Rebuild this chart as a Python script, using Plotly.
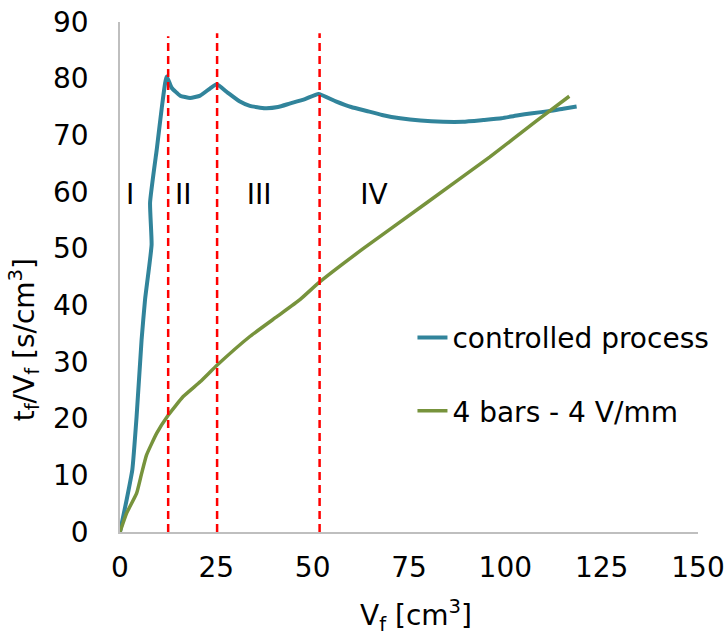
import plotly.graph_objects as go

# ---- data ----
ctrl_x = [0, 1.7, 3.2, 4.3, 5.6, 6.5, 8.2, 7.8, 9.5, 12.1, 13.4, 15.6, 18.2, 20.8, 23.4, 25.1,
          28.0, 31.0, 33.7, 37.6, 41.0, 44.0, 48.0, 51.5, 56.0, 60.0, 64.0, 68.0, 72.7,
          78.0, 83.9, 89.0, 94.3, 99.0, 103.0, 107.0, 111.6, 115.0, 118.5]
ctrl_y = [0, 5.6, 11.0, 20.3, 33.9, 41.0, 50.7, 58.1, 67.3, 80.4, 78.4, 77.0, 76.6, 77.0, 78.3, 79.0,
          77.5, 76.0, 75.2, 74.8, 75.0, 75.6, 76.4, 77.3, 76.0, 75.0, 74.3, 73.6, 73.0,
          72.6, 72.4, 72.4, 72.7, 73.0, 73.5, 73.9, 74.3, 74.7, 75.1]

bars_x = [0, 1.7, 4.3, 5.6, 6.9, 9.5, 12.5, 16.4, 20.8, 25.3, 33.7, 40.7, 46.7, 51.6,
          63.1, 79.6, 96.0, 108.0, 116.6]
bars_y = [0, 3.3, 6.8, 10.3, 13.6, 17.4, 20.6, 23.9, 26.5, 29.5, 34.5, 38.0, 41.0, 44.0,
          50.0, 58.1, 66.2, 72.5, 76.9]

stage_x = [12.5, 25.2, 51.8]
stage_top = [87.5, 88.0, 88.0]

region_labels = ["I", "II", "III", "IV"]
region_x = [2.6, 16.4, 36.1, 65.9]
region_y = [59.2, 59.2, 59.2, 59.2]

x_ticks = [0, 25, 50, 75, 100, 125, 150]
y_ticks = [0, 10, 20, 30, 40, 50, 60, 70, 80, 90]

FONT = "DejaVu Sans"
BLUE = "#31849B"
GREEN = "#77933C"

fig = go.Figure()
fig.add_trace(go.Scatter(x=ctrl_x, y=ctrl_y, mode="lines", name="controlled process",
                         line=dict(color=BLUE, width=4, shape="spline", smoothing=0.4),
                         legendgroup="a"))
fig.add_trace(go.Scatter(x=bars_x, y=bars_y, mode="lines", name="4 bars - 4 V/mm",
                         line=dict(color=GREEN, width=3.5, shape="spline", smoothing=0.4),
                         legendgroup="b"))
for sx, st in zip(stage_x, stage_top):
    fig.add_trace(go.Scatter(x=[sx, sx], y=[0, st], mode="lines", showlegend=False,
                             line=dict(color="#FF0000", width=2.5, dash="8px,5px"),
                             hoverinfo="skip"))
fig.add_trace(go.Scatter(x=region_x, y=region_y, mode="text", text=region_labels,
                         textfont=dict(family=FONT, size=28, color="black"),
                         showlegend=False, hoverinfo="skip"))

fig.update_layout(
    width=724, height=636,
    margin=dict(l=120, r=26, t=22, b=104, autoexpand=False),
    paper_bgcolor="white", plot_bgcolor="white",
    font=dict(family=FONT, size=28, color="black"),
    showlegend=True,
    legend=dict(x=0.506, y=0.43, xanchor="left", yanchor="top",
                bgcolor="rgba(0,0,0,0)", borderwidth=0,
                font=dict(family=FONT, size=28, color="black"),
                tracegroupgap=34, traceorder="grouped", itemwidth=30),
    xaxis=dict(range=[0, 150], tickvals=x_ticks, showgrid=False, zeroline=False,
               showline=True, linecolor="#BFBFBF", linewidth=1.5, automargin=False,
               ticks="outside", ticklen=10, tickcolor="rgba(0,0,0,0)",
               ticklabeloverflow="allow",
               tickfont=dict(family=FONT, size=28, color="black")),
    yaxis=dict(range=[0, 90], tickvals=y_ticks, showgrid=False, zeroline=False,
               showline=True, linecolor="#BFBFBF", linewidth=1.5, automargin=False,
               ticks="outside", ticklen=24, tickcolor="rgba(0,0,0,0)",
               ticklabeloverflow="allow",
               tickfont=dict(family=FONT, size=28, color="black")),
    annotations=[
        dict(text="V<sub>f</sub> [cm<sup>3</sup>]", xref="paper", yref="paper",
             x=0.512, y=-0.163, xanchor="center", yanchor="middle", showarrow=False,
             font=dict(family=FONT, size=28, color="black")),
        dict(text="t<sub>f</sub>/V<sub>f</sub> [s/cm<sup>3</sup>]", xref="paper", yref="paper",
             x=-0.166, y=0.376, xanchor="center", yanchor="middle", showarrow=False,
             textangle=-90, font=dict(family=FONT, size=28, color="black")),
    ],
)

fig.write_html("out.html")
